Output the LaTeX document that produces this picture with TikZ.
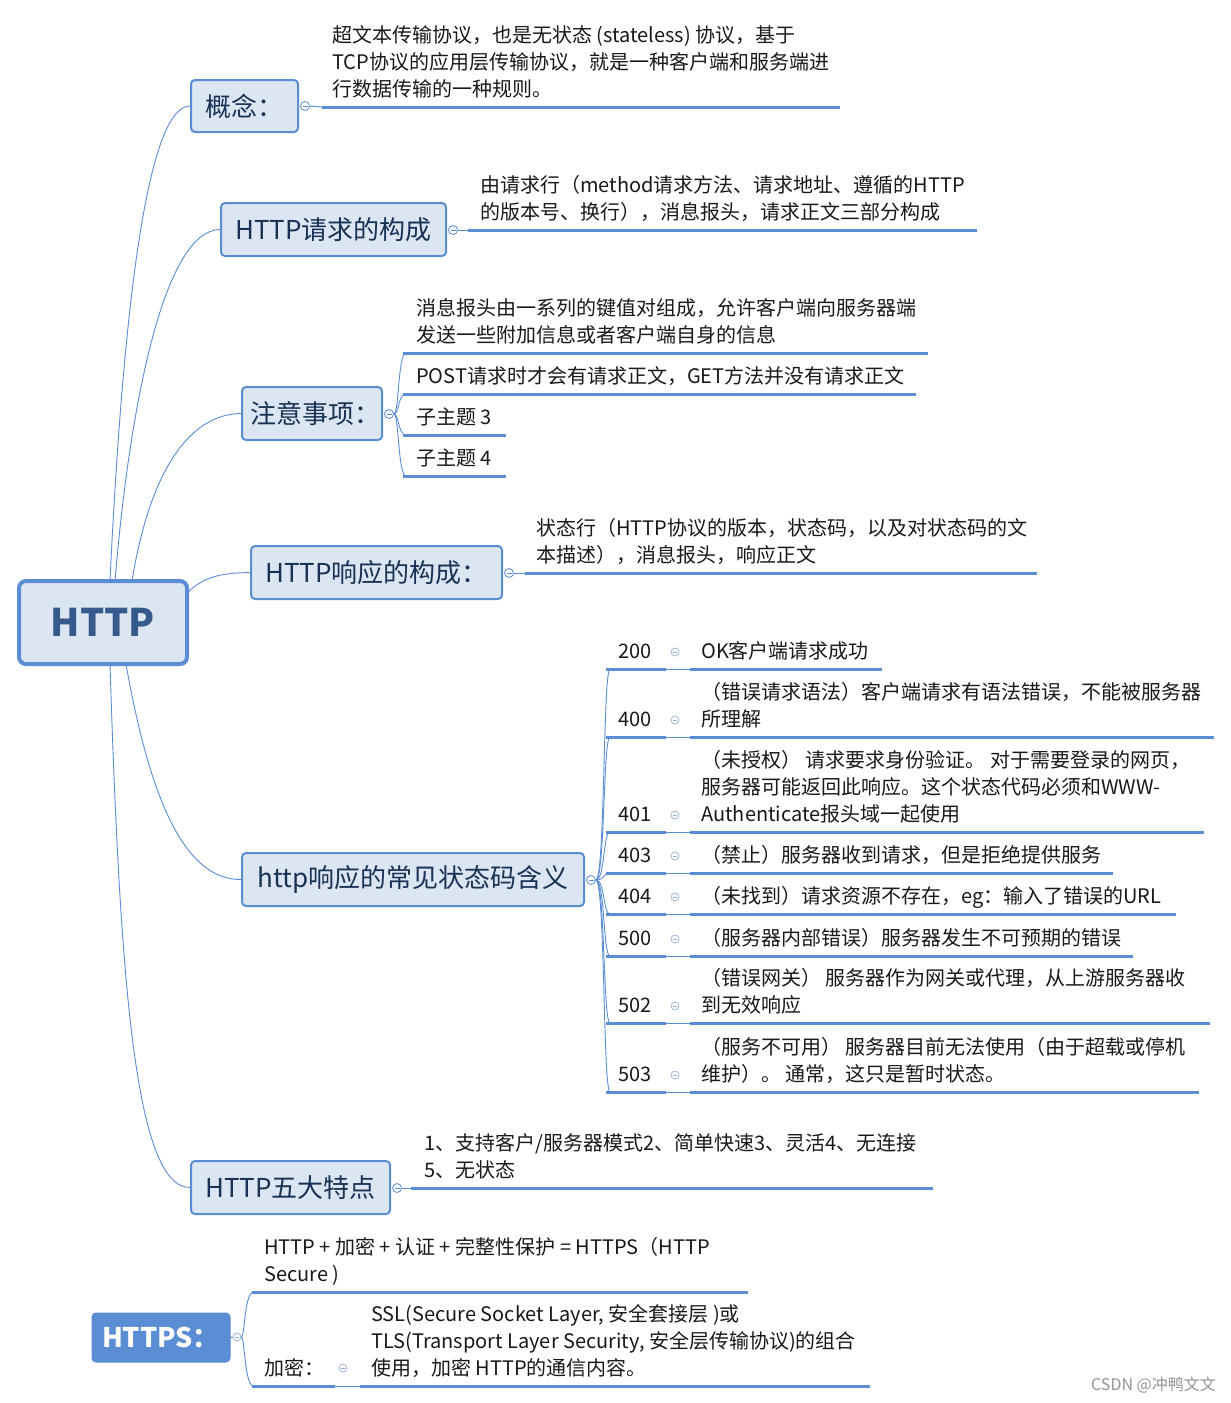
\documentclass[tikz,border=0pt]{standalone}
\usepackage{fontspec}
\setmainfont{Noto Sans CJK SC}
\definecolor{mblue}{RGB}{91,141,212}
\definecolor{mfill}{RGB}{220,230,242}
\definecolor{navy}{RGB}{23,50,85}
\definecolor{rootc}{RGB}{55,90,140}
\definecolor{lightc}{RGB}{150,175,215}
\definecolor{textc}{RGB}{25,25,25}
\newcommand{\sitem}[5]{%
  \node[txt] (#1code) at (618,#2-2.5) {#3\strut};
  \node[scoll] (#1dot) at (675,#2-17) {};
  \node[txt] (#1text) at (701,#2-2.5) {#5\strut};
  \draw[uline] (606,#2) -- (666,#2);
  \draw[thinl] (666,#2) -- (690,#2);
  \draw[uline] (690,#2) -- (#4,#2);
  \draw[conn] (c5.east) .. controls (605,880) and (603,#2) .. (610,#2);
}
\begin{document}
\begin{tikzpicture}[x=1pt,y=-1pt,
  box/.style={draw=mblue, fill=mfill, line width=2pt, rounded corners=4pt, text=navy,
    font=\fontsize{26}{30}\selectfont, inner sep=0pt, minimum height=53pt},
  conn/.style={draw=mblue, line width=0.9pt},
  uline/.style={draw=mblue, line width=3pt},
  thinl/.style={draw=mblue, line width=1pt},
  txt/.style={anchor=south west, inner sep=0pt, align=left, font=\fontsize{20}{27}\selectfont, text=textc},
  coll/.style={circle, draw=mblue, fill=white, line width=0.8pt, minimum size=9pt, inner sep=0pt,
    path picture={\draw[mblue,line width=0.8pt] ([xshift=-2.5pt]path picture bounding box.center) -- ([xshift=2.5pt]path picture bounding box.center);}},
  scoll/.style={circle, draw=lightc, fill=white, line width=0.7pt, minimum size=8pt, inner sep=0pt,
    path picture={\draw[lightc,line width=0.7pt] ([xshift=-2pt]path picture bounding box.center) -- ([xshift=2pt]path picture bounding box.center);}},
]
\useasboundingbox (0,0) rectangle (1231,1403);
\fill[white] (0,0) rectangle (1231,1403);

% root
\node[draw=mblue, fill=mfill, line width=4pt, rounded corners=7pt, minimum width=168pt, minimum height=83pt,
  inner sep=0pt, text=rootc, font=\fontsize{38}{42}\selectfont\bfseries] (R) at (103,622.5) {HTTP};

% main topics
\node[box, minimum width=107pt, minimum height=52pt] (n1) at (244.5,106) {概念：};
\node[box, minimum width=225pt] (n2) at (333.5,229.5) {HTTP请求的构成};
\node[box, minimum width=140pt] (n3) at (312,413.5) {\makebox[140pt][r]{注意事项：\hspace*{2pt}}};
\node[box, minimum width=251pt] (n4) at (376.5,572.5) {HTTP响应的构成：};
\node[box, minimum width=342pt] (n5) at (413,879.5) {http响应的常见状态码含义};
\node[box, minimum width=199pt] (n6) at (290.5,1187.5) {HTTP五大特点};
\node[draw=mblue, fill=mblue, line width=1pt, rounded corners=4pt, minimum width=138pt, minimum height=49pt,
  inner sep=0pt, text=white, font=\fontsize{27}{30}\selectfont\bfseries] (n7) at (161,1337.5) {HTTPS：};

% root connectors
\coordinate (r1) at (110,581);
\coordinate (r2) at (115,581);
\coordinate (r3) at (132,581);
\coordinate (r4) at (187,593);
\coordinate (r5) at (126,664);
\coordinate (r6) at (110,664);
\draw[conn] (r1) .. controls (122,330) and (145,106) .. (n1.west);
\draw[conn] (r2) .. controls (130,400) and (165,230) .. (n2.west);
\draw[conn] (r3) .. controls (150,470) and (190,414) .. (n3.west);
\draw[conn] (r4) .. controls (205,575) and (225,573) .. (n4.west);
\draw[conn] (r5) .. controls (150,800) and (185,880) .. (n5.west);
\draw[conn] (r6) .. controls (120,980) and (135,1188) .. (n6.west);

% collapse circles
\node[coll] (c1) at (305,106) {};
\node[coll] (c2) at (453,230) {};
\node[coll] (c3) at (389,414) {};
\node[coll] (c4) at (509,573) {};
\node[coll] (c5) at (591,880) {};
\node[coll] (c6) at (397,1188) {};
\node[scoll] (c7) at (237,1337) {};

% concept
\draw[thinl] (c1.east) -- (322,107);
\draw[uline] (322,107) -- (840,107);
\node[txt] (t1) at (332,104.5) {超文本传输协议，也是无状态 (stateless) 协议，基于\\TCP协议的应用层传输协议，就是一种客户端和服务端进\\行数据传输的一种规则。\strut};

% request
\draw[thinl] (c2.east) -- (468,230);
\draw[uline] (468,230) -- (977,230);
\node[txt] (t2) at (480,227.5) {由请求行（method请求方法、请求地址、遵循的HTTP\\的版本号、换行），消息报头，请求正文三部分构成\strut};

% notes
\draw[conn] (c3.east) .. controls (399,414) and (398,353) .. (406,353);
\draw[conn] (c3.east) .. controls (399,414) and (398,394) .. (406,394);
\draw[conn] (c3.east) .. controls (399,414) and (398,435) .. (406,435);
\draw[conn] (c3.east) .. controls (399,414) and (398,476) .. (406,476);
\draw[uline] (403,353) -- (928,353);
\draw[uline] (403,394) -- (916,394);
\draw[uline] (403,435) -- (506,435);
\draw[uline] (403,476) -- (506,476);
\node[txt] (t3a) at (416,350.5) {消息报头由一系列的键值对组成，允许客户端向服务器端\\发送一些附加信息或者客户端自身的信息\strut};
\node[txt] (t3b) at (416,391.5) {POST请求时才会有请求正文，GET方法并没有请求正文\strut};
\node[txt] (t3c) at (416,432.5) {子主题 3\strut};
\node[txt] (t3d) at (416,473.5) {子主题 4\strut};

% response
\draw[thinl] (c4.east) -- (525,573);
\draw[uline] (525,573) -- (1037,573);
\node[txt] (t4) at (536,570.5) {状态行（HTTP协议的版本，状态码，以及对状态码的文\\本描述），消息报头，响应正文\strut};

% status codes
\sitem{s200}{669}{200}{882}{OK客户端请求成功}
\sitem{s400}{737}{400}{1214}{（错误请求语法）客户端请求有语法错误，不能被服务器\\所理解}
\sitem{s401}{832}{401}{1204}{（未授权） 请求要求身份验证。 对于需要登录的网页，\\服务器可能返回此响应。这个状态代码必须和WWW-\\Authenticate报头域一起使用}
\sitem{s403}{873}{403}{1113}{（禁止）服务器收到请求，但是拒绝提供服务}
\sitem{s404}{914}{404}{1176}{（未找到）请求资源不存在，eg：输入了错误的URL}
\sitem{s500}{956}{500}{1133}{（服务器内部错误）服务器发生不可预期的错误}
\sitem{s502}{1023}{502}{1210}{（错误网关） 服务器作为网关或代理，从上游服务器收\\到无效响应}
\sitem{s503}{1092}{503}{1199}{（服务不可用） 服务器目前无法使用（由于超载或停机\\维护）。 通常，这只是暂时状态。}

% five features
\draw[thinl] (c6.east) -- (411,1188);
\draw[uline] (411,1188) -- (933,1188);
\node[txt] (t6) at (424,1185.5) {1、支持客户/服务器模式2、简单快速3、灵活4、无连接\\5、无状态\strut};

% HTTPS
\draw[thinl] (n7.east) -- (c7.west);
\draw[conn] (c7.east) .. controls (245,1337) and (244,1292) .. (254,1292);
\draw[conn] (c7.east) .. controls (245,1337) and (244,1386) .. (254,1386);
\draw[uline] (252,1292) -- (748,1292);
\node[txt] (t7a) at (264,1289.5) {HTTP + 加密 + 认证 + 完整性保护 = HTTPS（HTTP\\Secure )\strut};
\draw[uline] (252,1386) -- (335,1386);
\draw[thinl] (335,1386) -- (360,1386);
\draw[uline] (360,1386) -- (870,1386);
\node[txt] (t7b) at (264,1383.5) {加密：\strut};
\node[scoll] (c8) at (343,1368) {};
\node[txt] (t7c) at (371,1383.5) {SSL(Secure Socket Layer, 安全套接层 )或\\TLS(Transport Layer Security, 安全层传输协议)的组合\\使用，加密 HTTP的通信内容。\strut};

% watermark
\node[anchor=east, inner sep=0pt, text=black!42, font=\fontsize{16}{18}\selectfont] (wm) at (1216,1385) {CSDN @冲鸭文文};
\end{tikzpicture}
\end{document}
